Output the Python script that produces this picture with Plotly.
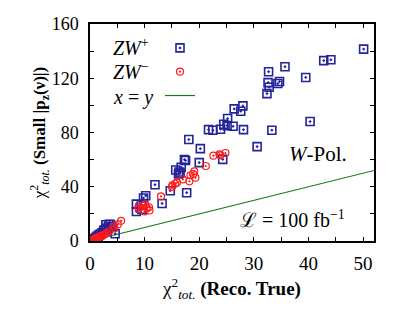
import plotly.graph_objects as go

# ZW+ (blue squares)
zwp_x = [50.1, 42.8, 44.1, 35.7, 32.7, 39.5, 32.6, 32.8, 34.7, 34.4, 32.4, 28.0, 26.4, 27.6,
         25.2, 24.5, 25.1, 26.2, 23.9, 21.7, 22.5, 28.1, 33.3, 40.3, 18.1, 30.6, 20.2, 24.3,
         20.0, 17.3, 17.5, 15.7, 16.7, 16.3, 16.5, 16.2, 11.9, 14.7, 17.7, 10.2, 9.8, 8.5,
         9.4, 8.5, 13.2, 9.5, 3.4, 2.5, 4.6,
         0.2, 0.4, 0.6, 0.9, 1.1, 1.3, 1.6, 1.9, 2.2, 2.8, 3.1, 3.7, 2.9, 4.0, 1.5]
zwp_y = [141.5, 133.0, 133.6, 128.5, 124.8, 120.6, 116.8, 113.4, 117.6, 116.1, 108.7, 99.6, 97.4, 95.7,
         90.3, 86.1, 85.1, 84.6, 82.4, 82.1, 81.7, 82.1, 81.7, 88.1, 74.8, 69.6, 68.1, 60.2,
         57.8, 60.0, 59.4, 52.3, 54.3, 50.9, 50.1, 49.4, 41.5, 37.1, 35.6, 33.4, 31.7, 27.2,
         26.7, 21.8, 27.7, 23.3, 12.2, 7.8, 5.3,
         0.3, 0.8, 1.2, 1.8, 2.5, 3.4, 4.3, 5.2, 6.0, 8.2, 9.5, 12.3, 12.0, 10.5, 3.0]

# ZW- (red circles)
zwm_x = [24.8, 23.7, 23.9, 22.6, 21.2, 19.1, 18.9, 18.4, 19.3, 18.2, 17.0, 15.9, 15.6, 15.1,
         15.0, 13.0, 10.1, 9.8, 10.4, 10.8, 8.9, 8.9, 10.0, 10.9, 5.7, 5.1, 4.3, 4.5, 3.1,
         0.1, 0.3, 0.5, 0.8, 1.0, 1.3, 1.6, 2.0, 2.4, 2.8, 3.5, 2.2, 1.8]
zwm_y = [64.9, 63.9, 63.2, 62.9, 55.3, 51.4, 49.4, 48.4, 46.7, 44.0, 45.4, 43.0, 42.2, 41.0,
         39.8, 32.9, 27.0, 26.0, 24.5, 24.9, 25.0, 23.8, 21.8, 22.5, 14.9, 12.2, 10.7, 9.2, 6.0,
         0.2, 0.5, 0.9, 1.4, 1.9, 2.5, 3.0, 3.6, 4.4, 5.1, 7.0, 3.5, 3.2]

line_x = [0, 52]
line_y = [0, 52]

x_ticks = list(range(0, 55, 5))
x_labels = [str(v) if v % 10 == 0 else "" for v in x_ticks]
y_ticks = list(range(0, 180, 20))
y_labels = [str(v) if v % 40 == 0 else "" for v in y_ticks]

FONT = "Liberation Serif, DejaVu Serif, serif"

fig = go.Figure()
fig.add_trace(go.Scatter(x=line_x, y=line_y, mode="lines", name="",
                         line=dict(color="#1a7a1a", width=1.2), showlegend=True,
                         legendrank=3))
fig.add_trace(go.Scatter(x=zwp_x, y=zwp_y, mode="markers", name="",
                         marker=dict(symbol="square-open-dot", size=8, color="#23239a",
                                     line=dict(width=1.6, color="#23239a")),
                         legendrank=1))
fig.add_trace(go.Scatter(x=zwm_x, y=zwm_y, mode="markers", name="",
                         marker=dict(symbol="circle-open-dot", size=7, color="#ff1a1a",
                                     line=dict(width=1.2, color="#ff1a1a")),
                         legendrank=2))

axis_common = dict(showline=True, linecolor="black", linewidth=1.5, mirror="allticks",
                   ticks="inside", ticklen=4, tickcolor="black", showgrid=False,
                   zeroline=False)

fig.update_xaxes(range=[0, 52], tickvals=x_ticks, ticktext=x_labels,
                 tickfont=dict(family=FONT, size=19, color="black"), ticklabelstandoff=4,
                 title=dict(text="χ<sup>2</sup><sub><i>tot.</i></sub> <b>(Reco. True)</b>",
                            font=dict(family=FONT, size=19, color="black"), standoff=9),
                 **axis_common)
fig.update_yaxes(range=[0, 160], tickvals=y_ticks, ticktext=y_labels,
                 tickfont=dict(family=FONT, size=18, color="black"), ticklabelstandoff=6,
                 title=dict(text="χ<sup>2</sup><sub><i>tot.</i></sub> <b>(Small |p<sub>z</sub>(ν)|)</b>",
                            font=dict(family=FONT, size=17, color="black"), standoff=0),
                 **axis_common)

fig.add_annotation(xref="paper", yref="paper", x=(318 - 90) / 284, y=(241 - 154) / 217,
                   text="<i>W</i>-Pol.", showarrow=False, xanchor="center", yanchor="middle",
                   font=dict(family=FONT, size=21, color="black"))
fig.add_annotation(xref="paper", yref="paper", x=(292 - 90) / 284, y=(241 - 219) / 217,
                   text="ℒ = 100 fb<sup>−1</sup>", showarrow=False, xanchor="center", yanchor="middle",
                   font=dict(family=FONT, size=20, color="black"))
for txt, ypx in [("<i>ZW</i><sup>+</sup>", 47), ("<i>ZW</i><sup>−</sup>", 71), ("<i>x</i> = <i>y</i>", 97)]:
    fig.add_annotation(xref="paper", yref="paper", x=(111 - 90) / 284, y=(241 - ypx) / 217,
                       xanchor="left", yanchor="middle", text=txt, showarrow=False,
                       font=dict(family=FONT, size=20, color="black"))

fig.update_layout(
    width=412, height=309,
    margin=dict(l=90, r=38, t=24, b=68),
    paper_bgcolor="white", plot_bgcolor="white",
    showlegend=True,
    legend=dict(x=(160 - 90) / 284, y=(241 - 31) / 217, xanchor="left", yanchor="top",
                bgcolor="rgba(0,0,0,0)", font=dict(family=FONT, size=16),
                traceorder="normal", itemwidth=30),
)

fig.write_html("out.html", config={"displayModeBar": False},
               post_script="document.body.style.margin='0';")
